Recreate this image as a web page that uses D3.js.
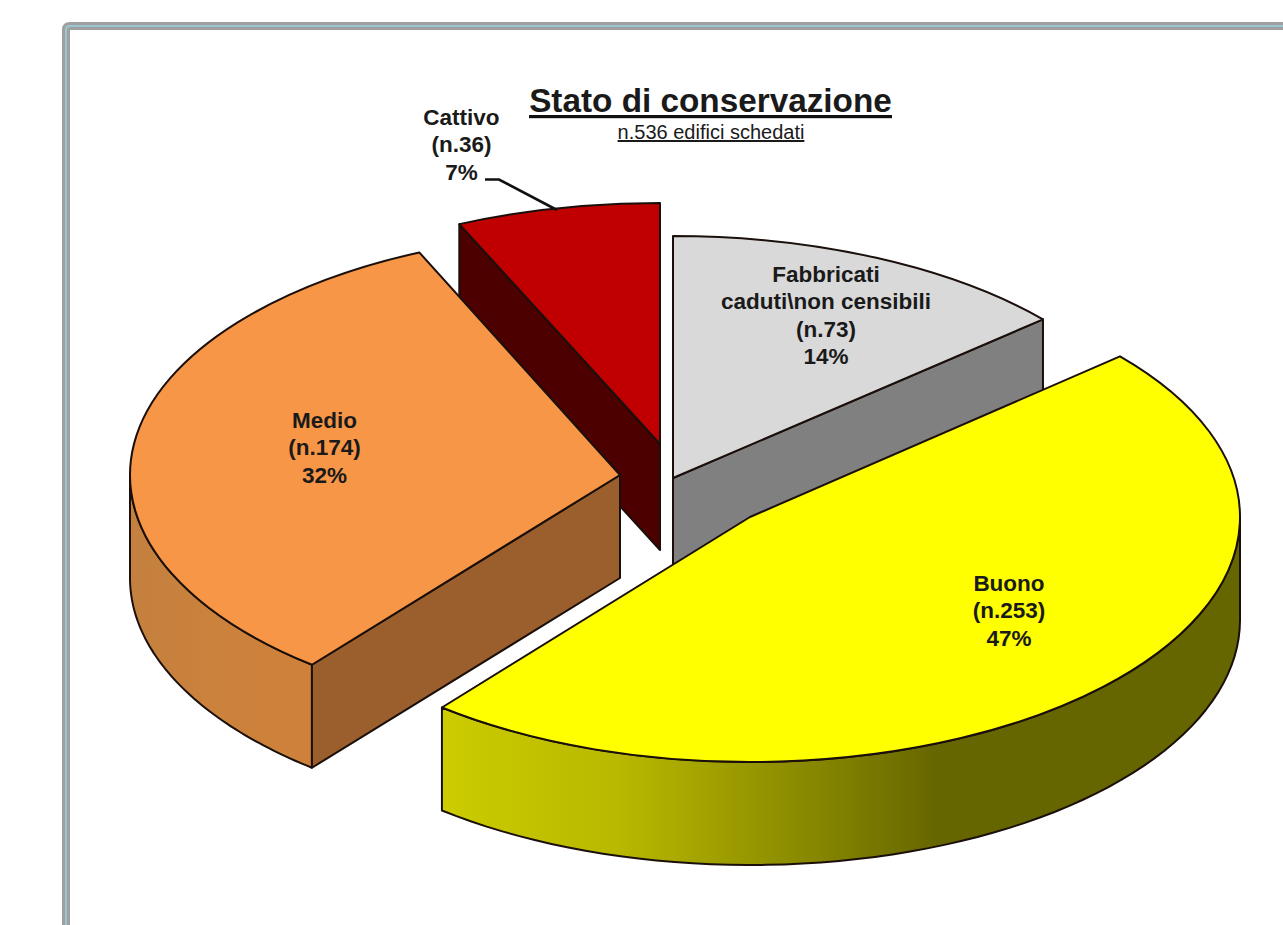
<!DOCTYPE html>
<html><head><meta charset="utf-8">
<script src="https://cdn.jsdelivr.net/npm/d3@7"></script>
<style>html,body{margin:0;background:#fff}svg{display:block}text{font-family:"Liberation Sans",Arial,sans-serif;fill:#1a1a1a}</style>
</head><body><div id="c"></div>
<script>
const categories=["Fabbricati","Buono","Medio","Cattivo"];
const counts=[73,253,174,36];
const percents=["14%","47%","32%","7%"];
const labelLines=[["Fabbricati","caduti\\non censibili"],["Buono"],["Medio"],["Cattivo"]];
const colors=["#d9d9d9","#ffff00","#f79646","#c00000"];
const cutColors=["#808080","#666600","#9a5f2c","#4d0000"];
const centers=[[673,478],[750,517],[620,475],[660,444]];
const depths=[87,103,103,106];
const radiiY=[242,245,244,241];
const labelPos=[[826,282],[1009,591],[324.5,428],[461.5,125]];
const drawOrder=[3,0,2,1];
const W=1283,H=925,rx=490;

const svg=d3.select("#c").append("svg").attr("width",W).attr("height",H);
const defs=svg.append("defs");
const g1=defs.append("linearGradient").attr("id","wall1").attr("gradientUnits","userSpaceOnUse").attr("x1",443).attr("x2",1240).attr("y1",0).attr("y2",0);
[[0,"#cccc00"],[.22,"#b8b800"],[.45,"#8a8a00"],[.62,"#666600"],[1,"#666600"]].forEach(s=>g1.append("stop").attr("offset",s[0]).attr("stop-color",s[1]));
const g2=defs.append("linearGradient").attr("id","wall2").attr("gradientUnits","userSpaceOnUse").attr("x1",130).attr("x2",313).attr("y1",0).attr("y2",0);
[[0,"#c4803f"],[.5,"#cb823c"],[1,"#cf813a"]].forEach(s=>g2.append("stop").attr("offset",s[0]).attr("stop-color",s[1]));
const outerFill=["#808080","url(#wall1)","url(#wall2)","#4d0000"];

// frame running off the right and bottom edges
const frame=svg.append("g").attr("fill","none");
const fp=`M66,${H+5}V30Q66,26 70,26H${W+5}`;
frame.append("path").attr("d",fp).attr("stroke","#a0a0a0").attr("stroke-width",8);
frame.append("path").attr("d",fp).attr("stroke","#9cc6cf").attr("stroke-width",2);

const arcs=d3.pie().sort(null).startAngle(0).endAngle(2*Math.PI)(counts);
const line=d3.line();
const arcGen=d3.arc().innerRadius(0).outerRadius(rx);
const ink="#1a0f0a",sw=2;

drawOrder.forEach(i=>{
  const a=arcs[i],c=centers[i],d=depths[i],ry=radiiY[i],g=svg.append("g");
  const pt=(t,dy=0)=>[c[0]+rx*Math.sin(t),c[1]-ry*Math.cos(t)+dy];
  // outer wall: only the front half of the rim is visible
  const lo=Math.max(a.startAngle,Math.PI/2),hi=Math.min(a.endAngle,3*Math.PI/2);
  if(hi>lo){
    const n=d3.range(0,61).map(k=>lo+(hi-lo)*k/60);
    const ring=n.map(t=>pt(t)).concat(n.slice().reverse().map(t=>pt(t,d)));
    g.append("path").attr("d",line(ring)+"Z").attr("fill",outerFill[i]).attr("stroke",ink).attr("stroke-width",sw).attr("stroke-linejoin","round");
  }
  // cut wall facing the viewer
  const cut=i===0?a.endAngle:(i===1?null:a.startAngle);
  if(cut!==null){
    const e=pt(cut);
    const q=[c,e,[e[0],e[1]+d],[c[0],c[1]+d]];
    g.append("path").attr("d",line(q)+"Z").attr("fill",cutColors[i]).attr("stroke",ink).attr("stroke-width",sw).attr("stroke-linejoin","round");
  }
  // top face
  g.append("path").attr("transform",`translate(${c[0]},${c[1]}) scale(1,${ry/rx})`)
    .attr("d",arcGen(a)).attr("fill",colors[i]).attr("stroke",ink).attr("stroke-width",sw)
    .attr("stroke-linejoin","round").attr("vector-effect","non-scaling-stroke");
});

// leader for Cattivo
svg.append("path").attr("d",line([[485,179.5],[499,179.5],[557,210]])).attr("fill","none").attr("stroke","#111").attr("stroke-width",2.6);

// labels
const lh=27.3;
categories.forEach((_,i)=>{
  const lines=labelLines[i].concat([`(n.${counts[i]})`,percents[i]]);
  const t=svg.append("text").attr("text-anchor","middle").attr("font-size",22.5).attr("font-weight","bold");
  lines.forEach((s,k)=>t.append("tspan").attr("x",labelPos[i][0]).attr("y",labelPos[i][1]+k*lh).text(s));
});

// title
svg.append("text").attr("x",710.5).attr("y",112).attr("text-anchor","middle").attr("font-size",33.3).attr("font-weight","bold").text("Stato di conservazione");
svg.append("rect").attr("x",529).attr("y",115).attr("width",363).attr("height",3.2).attr("fill","#111");
svg.append("text").attr("x",711).attr("y",139).attr("text-anchor","middle").attr("font-size",20).attr("fill","#333").attr("text-decoration","underline").text("n.536 edifici schedati");
</script></body></html>
